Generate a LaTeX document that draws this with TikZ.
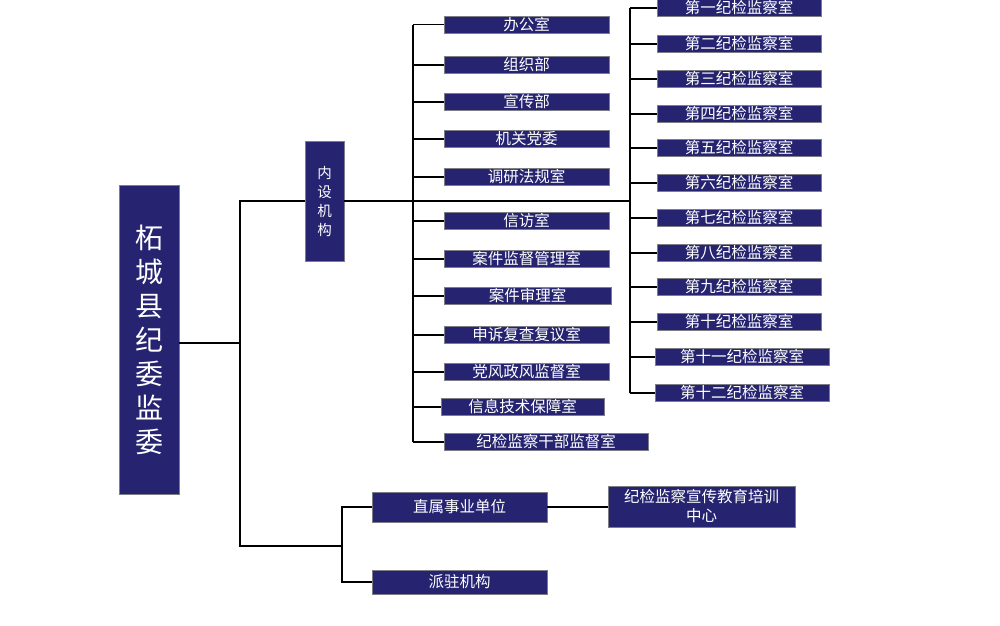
\documentclass[tikz,border=0pt]{standalone}
\usepackage{fontspec}
\newfontfamily\cjk{Noto Sans CJK SC}
\definecolor{navy}{RGB}{38,36,112}
\definecolor{edgegray}{RGB}{125,125,135}
\begin{document}
\begin{tikzpicture}[x=1pt,y=-1pt,
  box/.style={draw=edgegray, line width=0.8pt, fill=navy, text=white,
    font=\cjk\fontsize{15.5}{19}\selectfont, inner sep=0pt, align=center},
  conn/.style={draw=black, line width=1.8pt},
  lbox/.style={box, minimum width=165pt, minimum height=17pt},
  rbox/.style={box, minimum width=164pt, minimum height=17pt}]
\useasboundingbox[fill=white] (0,0) rectangle (1000,625);

% main
\node[box, minimum width=60pt, minimum height=309pt, font=\cjk\fontsize{28}{34}\selectfont] (m) at (149,339.5) {柘\\城\\县\\纪\\委\\监\\委};
\node[box, minimum width=39pt, minimum height=120pt, font=\cjk\fontsize{14.5}{19}\selectfont] (ns) at (324.5,201) {内\\设\\机\\构};

% left column
\node[lbox] (l1) at (526.5,24.5) {办公室};
\node[lbox] (l2) at (526.5,65) {组织部};
\node[lbox] (l3) at (526.5,102) {宣传部};
\node[lbox] (l4) at (526.5,139) {机关党委};
\node[lbox] (l5) at (526.5,177) {调研法规室};
\node[lbox] (l6) at (526.5,221) {信访室};
\node[lbox] (l7) at (526.5,259) {案件监督管理室};
\node[lbox, minimum width=167pt] (l8) at (527.5,296) {案件审理室};
\node[lbox] (l9) at (526.5,335) {申诉复查复议室};
\node[lbox] (l10) at (526.5,372) {党风政风监督室};
\node[lbox, minimum width=163pt] (l11) at (522.5,407) {信息技术保障室};
\node[lbox, minimum width=204pt] (l12) at (546,442) {纪检监察干部监督室};

% right column
\node[rbox] (r1) at (739,8) {第一纪检监察室};
\node[rbox] (r2) at (739,44) {第二纪检监察室};
\node[rbox] (r3) at (739,79) {第三纪检监察室};
\node[rbox] (r4) at (739,114) {第四纪检监察室};
\node[rbox] (r5) at (739,148) {第五纪检监察室};
\node[rbox] (r6) at (739,183) {第六纪检监察室};
\node[rbox] (r7) at (739,218) {第七纪检监察室};
\node[rbox] (r8) at (739,253) {第八纪检监察室};
\node[rbox] (r9) at (739,287) {第九纪检监察室};
\node[rbox] (r10) at (739,322) {第十纪检监察室};
\node[rbox, minimum width=174pt] (r11) at (742,357) {第十一纪检监察室};
\node[rbox, minimum width=174pt] (r12) at (742,393) {第十二纪检监察室};

% bottom
\node[box, minimum width=175pt, minimum height=30pt] (zs) at (459.5,507) {直属事业单位};
\node[box, minimum width=175pt, minimum height=24pt] (pz) at (459.5,582) {派驻机构};
\node[box, minimum width=187pt, minimum height=41pt] (px) at (701.5,506.5) {纪检监察宣传教育培训\\中心};

% coordinates for trunks
\coordinate (T) at (240,0);
\coordinate (B) at (342,546);
\coordinate (L) at (413,0);
\coordinate (R) at (630,0);

% connectors
\draw[conn] ([yshift=-3.5pt]m.east) -- ([yshift=-3.5pt]m.east -| T);
\draw[conn] (ns.west) -- (ns.west -| T) -- (T |- B) -- (B);
\draw[conn] (zs.west) -| (B) |- (pz.west);
\draw[conn] (zs.east) -- (zs.east -| px.west);
\draw[conn] (ns.east) -- (ns.east -| R);

\draw[conn] (l1.west -| L) -- (l12.west -| L);
\foreach \n in {l1,l2,l3,l4,l5,l6,l7,l8,l9,l10,l11,l12}
  \draw[conn] (\n.west) -- (\n.west -| L);

\draw[conn] (r1.west -| R) -- (r12.west -| R);
\foreach \n in {r1,r2,r3,r4,r5,r6,r7,r8,r9,r10,r11,r12}
  \draw[conn] (\n.west) -- (\n.west -| R);
\end{tikzpicture}
\end{document}
